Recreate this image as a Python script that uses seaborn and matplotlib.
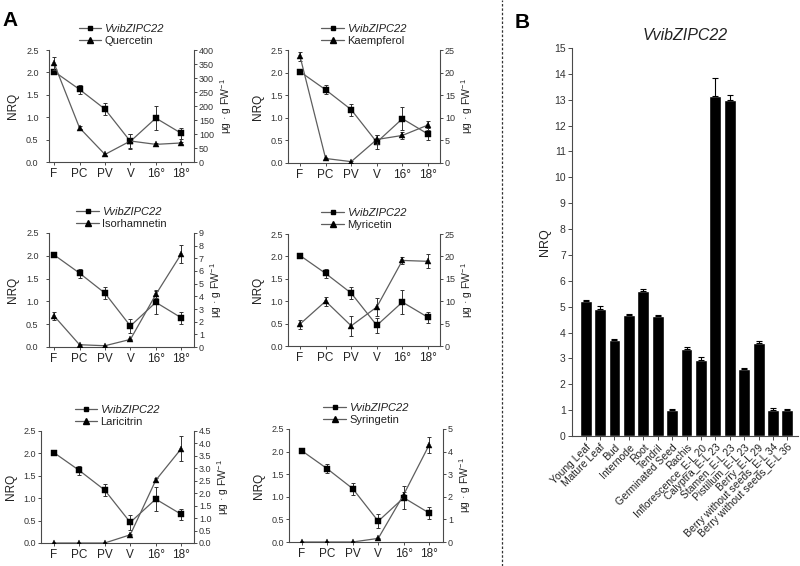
import numpy as np
import pandas as pd
import matplotlib
matplotlib.use("Agg")
import matplotlib.pyplot as plt
from matplotlib.lines import Line2D
import seaborn as sns

# ---------------- data ----------------
stages = ["F", "PC", "PV", "V", "16°", "18°"]
nrq = [2.02, 1.62, 1.18, 0.46, 0.98, 0.64]
nrq_err = [0.03, 0.10, 0.13, 0.16, 0.26, 0.13]

quercetin = [352, 122, 27, 75, 63, 68]
quercetin_err = [22, 5, 5, 25, 5, 5]
kaempferol = [23.6, 1.0, 0.3, 5.2, 6.1, 8.4]
kaempferol_err = [1.0, 0.2, 0.2, 1.0, 0.8, 1.0]
isorhamnetin = [2.45, 0.18, 0.10, 0.60, 4.15, 7.35]
isorhamnetin_err = [0.30, 0.05, 0.05, 0.05, 0.30, 0.70]
myricetin = [4.9, 10.0, 4.5, 8.7, 19.1, 18.9]
myricetin_err = [1.0, 1.0, 2.2, 2.0, 0.8, 1.6]
laricitrin = [0.0, 0.0, 0.0, 0.33, 2.52, 3.79]
laricitrin_err = [0.0, 0.0, 0.0, 0.02, 0.08, 0.50]
syringetin = [0.0, 0.0, 0.0, 0.16, 2.10, 4.30]
syringetin_err = [0.0, 0.0, 0.0, 0.02, 0.10, 0.35]

compounds = ["Quercetin", "Kaempferol", "Isorhamnetin", "Myricetin", "Laricitrin", "Syringetin"]
comp_values = [quercetin, kaempferol, isorhamnetin, myricetin, laricitrin, syringetin]
comp_errors = [quercetin_err, kaempferol_err, isorhamnetin_err, myricetin_err, laricitrin_err, syringetin_err]
right_ticks = [
    [0, 50, 100, 150, 200, 250, 300, 350, 400],
    [0, 5, 10, 15, 20, 25],
    [0, 1, 2, 3, 4, 5, 6, 7, 8, 9],
    [0, 5, 10, 15, 20, 25],
    [0.0, 0.5, 1.0, 1.5, 2.0, 2.5, 3.0, 3.5, 4.0, 4.5],
    [0, 1, 2, 3, 4, 5],
]
right_fmt = ["{:d}", "{:d}", "{:d}", "{:d}", "{:.1f}", "{:d}"]
nrq_ticks = [0.0, 0.5, 1.0, 1.5, 2.0, 2.5]

tissues = ["Young Leaf", "Mature Leaf", "Bud", "Internode", "Root", "Tendril",
           "Germinated Seed", "Rachis", "Inflorescence_E-L 20", "Calyptra_E-L 23",
           "Stamen_E-L 23", "Pistillum_E-L 23", "Berry_E-L 29",
           "Berry without seeds_E-L 34", "Berry without seeds_E-L 36"]
tissue_nrq = [5.20, 4.92, 3.73, 4.68, 5.60, 4.63, 1.00, 3.38, 2.92, 13.15, 13.00, 2.58, 3.60, 1.00, 1.00]
tissue_err = [0.05, 0.10, 0.03, 0.04, 0.10, 0.05, 0.06, 0.08, 0.12, 0.70, 0.18, 0.06, 0.08, 0.10, 0.03]
b_ticks = list(range(0, 16))

# ---------------- style ----------------
sns.set_style("ticks")
plt.rcParams["font.family"] = ["Liberation Sans", "DejaVu Sans"]
plt.rcParams["mathtext.fontset"] = "custom"
plt.rcParams["mathtext.rm"] = "Liberation Sans"
plt.rcParams["axes.linewidth"] = 0.8

W, H = 800, 566
fig = plt.figure(figsize=(W / 100, H / 100), dpi=100)


def rect(x0, y0, x1, y1):
    return [x0 / W, 1 - y1 / H, (x1 - x0) / W, (y1 - y0) / H]


AX_COL = "#4a4a4a"
LINE_COL = "#5e5e5e"

panels = [
    ((49, 50, 194, 162), (-0.2, 5.5), 5.5),
    ((288, 50, 440, 163), (-0.47, 5.47), 1.5),
    ((49, 233, 194, 347), (-0.2, 5.5), 5.5),
    ((288, 234, 440, 346), (-0.47, 5.47), 1.5),
    ((41, 431, 194, 543), (-0.5, 5.5), 1.5),
    ((289, 429, 443, 542), (-0.5, 5.54), 1.5),
]

x_pos = np.arange(len(stages))

for i, (r, xl, lpad) in enumerate(panels):
    ax = fig.add_axes(rect(*r))
    ax2 = ax.twinx()
    df = pd.DataFrame({"x": x_pos, "nrq": nrq, "comp": comp_values[i]})

    ax.errorbar(x_pos, nrq, yerr=nrq_err, fmt="none", ecolor="#333333",
                elinewidth=0.7, capsize=1.6, capthick=0.7, zorder=2)
    sns.lineplot(data=df, x="x", y="nrq", ax=ax, color=LINE_COL, lw=0.9,
                 marker="s", markersize=4.0, markerfacecolor="black",
                 markeredgecolor="black", markeredgewidth=0.3, zorder=3)
    ax2.errorbar(x_pos, comp_values[i], yerr=comp_errors[i], fmt="none",
                 ecolor="#333333", elinewidth=0.7, capsize=1.6, capthick=0.7, zorder=2)
    sns.lineplot(data=df, x="x", y="comp", ax=ax2, color=LINE_COL, lw=0.9,
                 marker="^", markersize=4.4, markerfacecolor="black",
                 markeredgecolor="black", markeredgewidth=0.3, zorder=3)

    ax.set_xlim(*xl)
    ax.set_ylim(0, 2.5)
    ax.set_yticks(nrq_ticks)
    ax.set_yticklabels([f"{v:.1f}" for v in nrq_ticks])
    ax.set_xticks(x_pos)
    ax.set_xticklabels(stages)
    ax.set_xlabel("")
    ax.set_ylabel("NRQ", fontsize=8.5, color="#222222", labelpad=5)

    rt = right_ticks[i]
    ax2.set_ylim(rt[0], rt[-1])
    ax2.set_yticks(rt)
    ax2.set_yticklabels([right_fmt[i].format(v) for v in rt])
    ax2.set_ylabel(r"μg · g FW$^{-1}$", fontsize=7.5, color="#222222",
                   rotation=90, labelpad=3)
    ax2.set_xlim(*xl)

    for a in (ax, ax2):
        a.spines["top"].set_visible(False)
        for s in a.spines.values():
            s.set_color(AX_COL)
            s.set_linewidth(0.8)
    ax.spines["right"].set_visible(False)
    ax2.spines["left"].set_visible(False)
    ax2.spines["bottom"].set_visible(False)

    ax.tick_params(axis="y", labelsize=6.5, length=2, width=0.7, pad=lpad,
                   colors=AX_COL, labelcolor="#333333")
    ax.tick_params(axis="x", labelsize=8.5, length=2, width=0.7, pad=2,
                   colors=AX_COL, labelcolor="#222222")
    ax2.tick_params(axis="y", labelsize=6.5, length=2, width=0.7, pad=1.5,
                    colors=AX_COL, labelcolor="#333333")

    handles = [
        Line2D([], [], color=LINE_COL, lw=0.9, marker="s", markersize=3.4,
               markerfacecolor="black", markeredgecolor="black"),
        Line2D([], [], color=LINE_COL, lw=0.9, marker="^", markersize=3.8,
               markerfacecolor="black", markeredgecolor="black"),
    ]
    leg = ax2.legend(handles, ["VvibZIPC22", compounds[i]], loc="lower center",
                     bbox_to_anchor=(0.5, 0.99), frameon=False, fontsize=8,
                     handlelength=2.0, handletextpad=0.3, labelspacing=0.15,
                     borderaxespad=0.1)
    leg.get_texts()[0].set_fontstyle("italic")
    for t in leg.get_texts():
        t.set_color("#222222")

# ---------------- panel B ----------------
axb = fig.add_axes(rect(572, 48, 798, 436))
dfb = pd.DataFrame({"tissue": tissues, "nrq": tissue_nrq})
sns.barplot(data=dfb, x="tissue", y="nrq", ax=axb, color="black",
            width=0.83, errorbar=None, saturation=1)
axb.errorbar(np.arange(len(tissues)), tissue_nrq,
             yerr=[np.zeros(len(tissues)), tissue_err], fmt="none",
             ecolor="black", elinewidth=0.8, capsize=2.5, capthick=0.8)
axb.set_ylim(0, 15)
axb.set_yticks(b_ticks)
axb.set_xlim(-0.95, 14.74)
axb.set_xticks(np.arange(len(tissues)))
axb.set_xticklabels(tissues, rotation=45, ha="right", rotation_mode="anchor")
axb.set_xlabel("")
axb.set_ylabel("NRQ", fontsize=9, color="#222222", labelpad=2)
axb.set_title("VvibZIPC22", fontsize=11.5, fontstyle="italic", pad=6, color="#222222")
axb.spines["top"].set_visible(False)
axb.spines["right"].set_visible(False)
for s in axb.spines.values():
    s.set_color(AX_COL)
    s.set_linewidth(0.8)
axb.tick_params(axis="y", labelsize=7.5, length=3, width=0.7, pad=1.5,
                colors=AX_COL, labelcolor="#333333")
axb.tick_params(axis="x", labelsize=7.5, length=3, width=0.7, pad=1.5,
                colors=AX_COL, labelcolor="#222222")

# ---------------- decorations ----------------
fig.text(2 / W, 1 - 26 / H, "A", fontsize=15, fontweight="bold", color="black")
fig.text(515 / W, 1 - 28 / H, "B", fontsize=15, fontweight="bold", color="black")
fig.add_artist(Line2D([502 / W, 502 / W], [0, 1], transform=fig.transFigure,
                      color="#333333", lw=0.9, linestyle=(0, (2, 1.5))))

fig.savefig("out.png", dpi=100)
